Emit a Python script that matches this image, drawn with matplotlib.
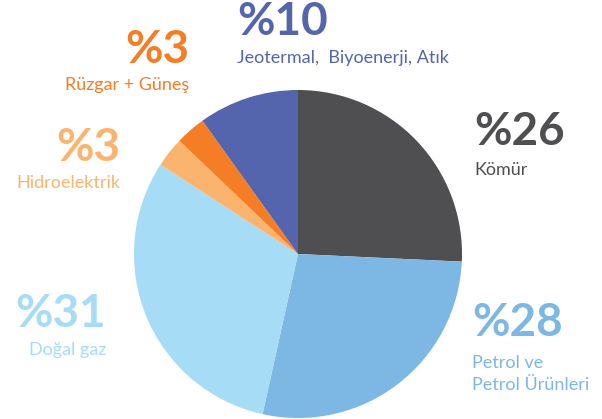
import matplotlib.pyplot as plt

# data
labels = ["Kömür", "Petrol ve\nPetrol Ürünleri", "Doğal gaz", "Hidroelektrik",
          "Rüzgar + Güneş", "Jeotermal,  Biyoenerji, Atık"]
shares = [26, 28, 31, 3, 3, 10]
colors = ["#4f4f51", "#7cb8e3", "#a6dcf5", "#fbb46e", "#f47d26", "#5565ad"]

plt.rcParams["font.family"] = ["Lato", "DejaVu Sans"]

W, H = 602, 419
fig = plt.figure(figsize=(W / 100, H / 100), dpi=100)
ax = fig.add_axes([0, 0, 1, 1])

ax.pie(shares, colors=colors, startangle=90, counterclock=False,
       center=(298, H - 254), radius=164,
       wedgeprops=dict(linewidth=0))
ax.set_xlim(0, W)
ax.set_ylim(0, H)
ax.set_aspect("equal")
ax.axis("off")

# (x, y of number, y of label, ha) in pixel coords from top-left
text_pos = [
    (474, 132, 170, "left"),
    (472, 323, 374, "left"),
    (106, 314, 350, "right"),
    (120, 148, 183, "right"),
    (189, 50, 85, "right"),
    (237, 22, 58, "left"),
]

for lab, val, col, (x, yn, yl, ha) in zip(labels, shares, colors, text_pos):
    ax.text(x, H - yn, f"%{val}", color=col, fontsize=33, fontweight="bold",
            ha=ha, va="center")
    ax.text(x, H - yl, lab, color=col, fontsize=13, ha=ha, va="center",
            linespacing=1.45)

fig.savefig("out.png", dpi=100)
